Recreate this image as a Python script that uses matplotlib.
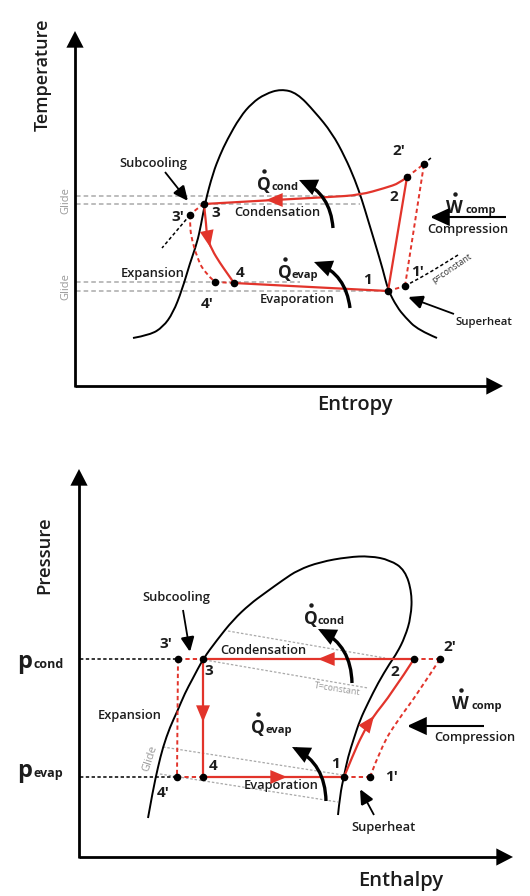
"""Refrigeration cycle sketch: T-s diagram (top) and p-h diagram (bottom)."""

import matplotlib
matplotlib.use('Agg')
import matplotlib.pyplot as plt
from matplotlib.patches import FancyArrowPatch, PathPatch
from matplotlib.path import Path

plt.rcParams['font.family'] = ['Open Sans', 'DejaVu Sans']

RED = '#e2342b'
GREY = '#a9a9a9'
INK = '#1c1c1c'

# ---------------- T-s diagram (sketch units, y grows downward) ----------------
ts_dome_s = [133, 150, 163, 173, 182, 190, 197, 201, 205, 213, 220, 227, 240, 252,
             265, 281, 297, 315, 332, 345, 355, 362, 368, 375, 383, 388, 397, 405,
             418, 437]
ts_dome_T = [338, 335, 327, 313, 290, 263, 243, 225, 203, 173, 155, 140, 117, 103,
             94, 89, 93, 112, 133, 157, 180, 200, 220, 243, 270, 290, 307, 317,
             330, 338]

ts_pt_names = ['1', "1'", '2', "2'", '3', "3'", '4', "4'"]
ts_pt_s = [388, 405, 407, 424, 204, 190, 234, 215]
ts_pt_T = [291, 286, 177, 164, 204, 215, 283, 282]

# solid cycle legs
ts_cond_s = [407, 400, 385, 360, 330, 273, 204]
ts_cond_T = [177, 183, 188, 195, 197, 200, 204]
ts_exp_s = [204, 205, 206, 207, 212, 220, 227, 234]
ts_exp_T = [204, 214, 223, 237, 250, 263, 273, 283]
ts_evap_s = [234, 310, 388]
ts_evap_T = [283, 287, 291]
ts_comp_s = [388, 407]
ts_comp_T = [291, 177]

# dashed (real) cycle legs
ts_sub_s = [204, 197, 190]
ts_sub_T = [204, 208, 215]
ts_exp2_s = [190, 190, 192, 197, 204, 215]
ts_exp2_T = [215, 228, 240, 257, 272, 282]
ts_evap2_s = [215, 234]
ts_evap2_T = [282, 283]
ts_sh_s = [388, 405]
ts_sh_T = [291, 286]
ts_comp2_s = [405, 424]
ts_comp2_T = [286, 164]
ts_top2_s = [407, 424]
ts_top2_T = [177, 164]

# black dashed isobar stubs
ts_iso_a_s = [424, 432]
ts_iso_a_T = [164, 157]
ts_iso_b_s = [190, 162]
ts_iso_b_T = [215, 248]
ts_iso_c_s = [405, 422, 442, 458]
ts_iso_c_T = [286, 277, 265, 255]

ts_glide_T = [196, 204, 282, 291]
ts_glide_end = [360, 360, 300, 388]

# ---------------- p-h diagram ----------------
ph_dome_h = [148, 153, 158, 163, 170, 177, 185, 192, 203, 217, 233, 250, 265, 283,
             298, 320, 348, 370, 390, 405, 412, 411, 405, 397, 390, 378, 368, 360,
             354, 348, 344, 340, 338]
ph_dome_p = [818, 790, 767, 747, 727, 712, 693, 680, 659, 640, 620, 604, 593, 580,
             570, 562, 557, 556, 560, 570, 593, 617, 637, 653, 663, 683, 703, 720,
             738, 757, 776, 795, 815]

ph_pt_names = ['1', "1'", '2', "2'", '3', "3'", '4', "4'"]
ph_pt_h = [344, 370, 414, 440, 203, 178, 203, 177]
ph_pt_p = [777, 777, 659, 659, 659, 659, 777, 777]

ph_comp_h = [344, 353, 362, 372, 392, 414]
ph_comp_p = [777, 755, 735, 718, 693, 659]
ph_comp2_h = [370, 382, 398, 418, 440]
ph_comp2_p = [777, 745, 720, 693, 659]

ph_p_cond = 659
ph_p_evap = 777

# isotherms (T=constant) through the two-phase region
ph_iso_h0 = [228, 205, 163, 160]
ph_iso_p0 = [631, 660, 747, 774]
ph_iso_h1 = [385, 368, 343, 338]
ph_iso_p1 = [658, 688, 775, 802]


def smooth(ax, xs, ys, **kw):
    """Draw a polyline through the read points, rounded with quadratic Beziers."""
    pts = list(zip(xs, ys))
    verts = [pts[0]]
    codes = [Path.MOVETO]
    for i in range(1, len(pts) - 1):
        mid = ((pts[i][0] + pts[i + 1][0]) / 2, (pts[i][1] + pts[i + 1][1]) / 2)
        if i == len(pts) - 2:
            mid = pts[-1]
        verts += [pts[i], mid]
        codes += [Path.CURVE3, Path.CURVE3]
    if len(pts) == 2:
        verts.append(pts[1])
        codes.append(Path.LINETO)
    ax.add_patch(PathPatch(Path(verts, codes), fill=False, **kw))


def red_arrow(ax, x, y, dx, dy, color=RED):
    ax.annotate('', xy=(x, y), xytext=(x - dx, y - dy),
                arrowprops=dict(arrowstyle='-|>,head_length=1.2,head_width=0.5',
                                color=color, lw=0, mutation_scale=10,
                                shrinkA=0, shrinkB=0), zorder=5)


def black_arrow(ax, start, end, lw=1.3, scale=7, rad=0.0):
    ax.add_patch(FancyArrowPatch(start, end,
                                 arrowstyle='-|>,head_length=1.3,head_width=0.6',
                                 connectionstyle=f'arc3,rad={rad}',
                                 mutation_scale=scale, lw=lw, color='black',
                                 joinstyle='miter', capstyle='butt',
                                 shrinkA=0, shrinkB=0, zorder=5))


def axis_arrows(ax, x0, y0, x1, y1):
    ax.plot([x0, x1 - 6], [y0, y0], color='black', lw=2.0, solid_capstyle='butt')
    ax.plot([x0, x0], [y0 + 1, y1 + 6], color='black', lw=2.0, solid_capstyle='butt')
    for end in [(x1, y0), (x0, y1)]:
        start = (x1 - 20, y0) if end[0] == x1 else (x0, y1 + 20)
        ax.annotate('', xy=end, xytext=start,
                    arrowprops=dict(arrowstyle='-|>,head_length=1.2,head_width=0.62',
                                    color='black', lw=0, mutation_scale=10,
                                    shrinkA=0, shrinkB=0))


def qdot(ax, x, y, letter, sub, size=12.5, subsize=8, gap=14, dot_dx=7):
    ax.text(x, y, letter, fontsize=size, color=INK, fontweight='bold',
            ha='left', va='baseline')
    # the "rate" dot over the letter
    ax.plot([x + dot_dx], [y - 18.5], marker='o', ms=3.2, color=INK, mec='none')
    ax.text(x + gap, y, sub, fontsize=subsize, color=INK, ha='left', va='baseline',
            fontweight='bold')


def label(ax, x, y, s, size=9.3, **kw):
    ax.text(x, y, s, fontsize=size, color=INK, ha='center', va='center',
            fontweight='semibold', **kw)


dash = (0, (2.2, 1.6))

fig = plt.figure(figsize=(5.3, 8.96), dpi=100)
ax = fig.add_axes([0, 0, 1, 1])
ax.set_xlim(0, 530)
ax.set_ylim(896, 0)
ax.axis('off')

# ======================= top: T-s =======================
axis_arrows(ax, 75, 386, 503, 31)
ax.text(43, 75, 'Temperature', rotation=90, fontsize=13, color=INK,
        ha='center', va='center', fontweight='semibold')
ax.text(355, 405, 'Entropy', fontsize=14.5, color=INK, ha='center', va='center',
        fontweight='semibold')

for yy, xe in zip(ts_glide_T, ts_glide_end):
    ax.plot([76, xe], [yy, yy], color=GREY, lw=1.1, ls=(0, (3, 2)), zorder=1)
ax.text(66, 201, 'Glide', rotation=90, fontsize=8, color='#999999',
        ha='center', va='center')
ax.text(66, 287, 'Glide', rotation=90, fontsize=8, color='#999999',
        ha='center', va='center')

smooth(ax, ts_dome_s, ts_dome_T, color='black', lw=1.4, zorder=2)

for xs, ys in [(ts_iso_a_s, ts_iso_a_T), (ts_iso_b_s, ts_iso_b_T),
               (ts_iso_c_s, ts_iso_c_T)]:
    smooth(ax, xs, ys, color='black', lw=1.1, ls=dash, zorder=3)

for xs, ys in [(ts_cond_s, ts_cond_T), (ts_exp_s, ts_exp_T),
               (ts_evap_s, ts_evap_T), (ts_comp_s, ts_comp_T)]:
    smooth(ax, xs, ys, color=RED, lw=1.6, zorder=4)
for xs, ys in [(ts_sub_s, ts_sub_T), (ts_exp2_s, ts_exp2_T), (ts_evap2_s, ts_evap2_T),
               (ts_sh_s, ts_sh_T), (ts_comp2_s, ts_comp2_T), (ts_top2_s, ts_top2_T)]:
    smooth(ax, xs, ys, color=RED, lw=1.4, ls=dash, zorder=4)

red_arrow(ax, 266, 200, -10, 0)
red_arrow(ax, 210, 247, 2, 10)

ax.scatter(ts_pt_s, ts_pt_T, s=20, color='black', zorder=6)

ts_lbl_pos = {'1': (368, 280), "1'": (417, 272), '2': (394, 197), "2'": (399, 151),
              '3': (216, 213), "3'": (178, 217), '4': (240, 273), "4'": (207, 304)}
for name in ts_pt_names:
    x, y = ts_lbl_pos[name]
    ax.text(x, y, name, fontsize=11, fontweight='bold', color=INK,
            ha='center', va='center')

label(ax, 153, 163, 'Subcooling')
black_arrow(ax, (165, 172), (188, 201))
label(ax, 277, 212, 'Condensation')
label(ax, 153, 273, 'Expansion')
label(ax, 297, 300, 'Evaporation')
label(ax, 468, 230, 'Compression')
label(ax, 484, 323, 'Superheat', size=8.2)
black_arrow(ax, (454, 314), (408, 297))
ax.text(452, 268, 'p=constant', fontsize=6.3, rotation=34, color='#333333',
        ha='center', va='center')

qdot(ax, 257, 190, 'Q', 'cond')
qdot(ax, 278, 278, 'Q', 'evap')
qdot(ax, 446, 213, 'W', 'comp', gap=19, dot_dx=9)
black_arrow(ax, (333, 228), (299, 180), lw=2.4, scale=7, rad=0.3)
black_arrow(ax, (350, 308), (314, 262), lw=2.4, scale=7, rad=0.3)
black_arrow(ax, (506, 217), (430, 217), lw=1.5, scale=9)

# ======================= bottom: p-h =======================
axis_arrows(ax, 79, 857, 513, 469)
ax.text(44, 555, 'Pressure', rotation=90, fontsize=13.3, color=INK,
        ha='center', va='center', fontweight='semibold')
ax.text(401, 881, 'Enthalpy', fontsize=14.5, color=INK, ha='center', va='center',
        fontweight='semibold')

ax.plot([80, ph_pt_h[5]], [ph_p_cond, ph_p_cond], color='black', lw=1.1, ls=dash)
ax.plot([80, ph_pt_h[7]], [ph_p_evap, ph_p_evap], color='black', lw=1.1, ls=dash)
ax.text(17, 668, 'p', fontsize=17, fontweight='bold', color=INK, va='baseline')
ax.text(33, 668, 'cond', fontsize=9, fontweight='bold', color=INK, va='baseline')
ax.text(17, 777, 'p', fontsize=17, fontweight='bold', color=INK, va='baseline')
ax.text(33, 777, 'evap', fontsize=9, fontweight='bold', color=INK, va='baseline')

for h0, p0, h1, p1 in zip(ph_iso_h0, ph_iso_p0, ph_iso_h1, ph_iso_p1):
    ax.plot([h0, h1], [p0, p1], color=GREY, lw=0.9, ls=(0, (2, 1.5)), zorder=1)
ax.text(337, 689, 'T=constant', fontsize=6.5, rotation=-9, color='#999999',
        ha='center', va='center')
ax.text(150, 758, 'Glide', fontsize=8, rotation=72, color='#999999',
        ha='center', va='center')

smooth(ax, ph_dome_h, ph_dome_p, color='black', lw=1.4, zorder=2)

# ideal cycle
ax.plot([ph_pt_h[2], ph_pt_h[4]], [ph_p_cond, ph_p_cond], color=RED, lw=1.6, zorder=4)
ax.plot([ph_pt_h[4], ph_pt_h[6]], [ph_p_cond, ph_p_evap], color=RED, lw=1.6, zorder=4)
ax.plot([ph_pt_h[6], ph_pt_h[0]], [ph_p_evap, ph_p_evap], color=RED, lw=1.6, zorder=4)
smooth(ax, ph_comp_h, ph_comp_p, color=RED, lw=1.6, zorder=4)
# real cycle
ax.plot([ph_pt_h[5], ph_pt_h[4]], [ph_p_cond, ph_p_cond], color=RED, lw=1.4, ls=dash, zorder=4)
ax.plot([ph_pt_h[5], ph_pt_h[7]], [ph_p_cond, ph_p_evap], color=RED, lw=1.4, ls=dash, zorder=4)
ax.plot([ph_pt_h[7], ph_pt_h[6]], [ph_p_evap, ph_p_evap], color=RED, lw=1.4, ls=dash, zorder=4)
ax.plot([ph_pt_h[0], ph_pt_h[1]], [ph_p_evap, ph_p_evap], color=RED, lw=1.4, ls=dash, zorder=4)
ax.plot([ph_pt_h[2], ph_pt_h[3]], [ph_p_cond, ph_p_cond], color=RED, lw=1.4, ls=dash, zorder=4)
smooth(ax, ph_comp2_h, ph_comp2_p, color=RED, lw=1.4, ls=dash, zorder=4)

red_arrow(ax, 318, 659, -10, 0)
red_arrow(ax, 203, 722, 0, 10)
red_arrow(ax, 287, 777, 10, 0)
red_arrow(ax, 374, 716, 6, -8)

ax.scatter(ph_pt_h, ph_pt_p, s=20, color='black', zorder=6)

ph_lbl_pos = {'1': (336, 764), "1'": (391, 777), '2': (395, 672), "2'": (450, 647),
              '3': (209, 671), "3'": (166, 644), '4': (213, 766), "4'": (163, 793)}
for name in ph_pt_names:
    x, y = ph_lbl_pos[name]
    ax.text(x, y, name, fontsize=11, fontweight='bold', color=INK,
            ha='center', va='center')

label(ax, 176, 598, 'Subcooling')
black_arrow(ax, (183, 610), (190, 652))
label(ax, 263, 650, 'Condensation')
label(ax, 130, 716, 'Expansion')
label(ax, 281, 786, 'Evaporation')
label(ax, 475, 738, 'Compression')
label(ax, 384, 828, 'Superheat')
black_arrow(ax, (374, 815), (360, 789))

qdot(ax, 304, 624, 'Q', 'cond')
qdot(ax, 251, 733, 'Q', 'evap')
qdot(ax, 452, 709, 'W', 'comp', gap=19, dot_dx=9)
black_arrow(ax, (352, 683), (318, 629), lw=2.4, scale=7, rad=0.3)
black_arrow(ax, (326, 801), (292, 747), lw=2.4, scale=7, rad=0.3)
black_arrow(ax, (484, 726), (407, 726), lw=1.5, scale=9)

fig.savefig('out.png', dpi=100)
plt.close(fig)
